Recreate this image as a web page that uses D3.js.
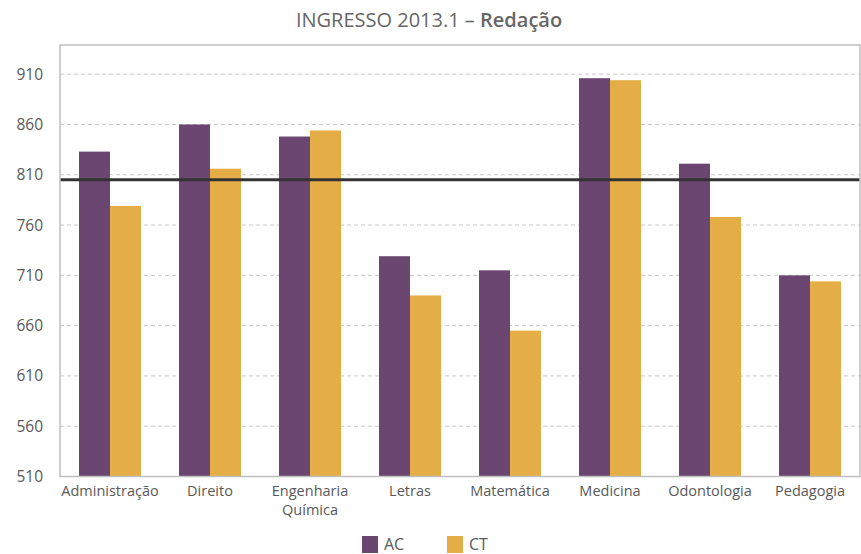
<!DOCTYPE html>
<html><head><meta charset="utf-8">
<script src="https://cdn.jsdelivr.net/npm/d3@7"></script>
<style>body{margin:0;background:#fff}svg{display:block}text{font-family:"Open Sans",Lato,sans-serif}</style>
</head><body><svg id="c" width="861" height="554"></svg>
<script>
const categories = ["Administração","Direito","Engenharia Química","Letras","Matemática","Medicina","Odontologia","Pedagogia"];
const seriesNames = ["AC","CT"];
const acValues = [833, 860, 848, 729, 715, 906, 821, 710];
const ctValues = [779, 816, 854, 690, 655, 904, 768, 704];
const yTicks = [510, 560, 610, 660, 710, 760, 810, 860, 910];
const referenceValue = 805;
const colors = ["#6B4670", "#E5AD45"];

const svg = d3.select("#c");
const m = {l:60, r:860, t:45, b:476.5};
const x = d3.scaleBand().domain(categories).range([m.l, m.r]).paddingInner(0.38).paddingOuter(0.19);
const xs = d3.scaleBand().domain(seriesNames).range([0, x.bandwidth()]);
const y = d3.scaleLinear().domain([510, 939]).range([m.b, m.t]);

// gridlines
svg.append("g").selectAll("line").data(yTicks.slice(1)).join("line")
  .attr("x1", m.l).attr("x2", m.r).attr("y1", d=>y(d)).attr("y2", d=>y(d))
  .attr("stroke", "#c8c8c8").attr("stroke-width", 1).attr("stroke-dasharray", "4,3");

// bars
const data = categories.map((c,i)=>({c, vals:[acValues[i], ctValues[i]]}));
const g = svg.append("g").selectAll("g").data(data).join("g").attr("transform", d=>`translate(${x(d.c)},0)`);
g.selectAll("rect").data(d=>d.vals.map((v,j)=>({k:seriesNames[j], v, j}))).join("rect")
  .attr("x", d=>xs(d.k)).attr("width", xs.bandwidth())
  .attr("y", d=>y(d.v)).attr("height", d=>y(510)-y(d.v)).attr("fill", d=>colors[d.j]);

// reference line
svg.append("line").attr("x1", m.l).attr("x2", m.r).attr("y1", y(referenceValue)).attr("y2", y(referenceValue))
  .attr("stroke", "#333").attr("stroke-width", 3);

// border
svg.append("rect").attr("x", m.l).attr("y", m.t).attr("width", m.r-m.l).attr("height", m.b-m.t)
  .attr("fill", "none").attr("stroke", "#bfbfbf").attr("stroke-width", 1.5);

const ff = "'Open Sans',Lato,sans-serif";
// y axis
const ya = svg.append("g").attr("transform", `translate(${m.l},0)`)
  .call(d3.axisLeft(y).tickValues(yTicks).tickSize(0).tickPadding(17));
ya.select(".domain").remove();
ya.selectAll("text").attr("fill", "#595959").style("font-size", "15.5px").style("font-family", ff);

// x axis
const xa = svg.append("g").attr("transform", `translate(0,${m.b})`)
  .call(d3.axisBottom(x).tickSize(0).tickPadding(9));
xa.select(".domain").remove();
xa.selectAll("text").attr("fill", "#595959").style("font-size", "14.5px").style("font-family", ff)
  .each(function(d){
    if (d === "Engenharia Química") {
      const t = d3.select(this); t.text(null);
      d.split(" ").forEach((w,i)=> t.append("tspan").attr("x", 0).attr("dy", i===0 ? "0.71em" : "1.3em").text(w));
    }
  });

// title
const title = svg.append("text").attr("x", 429).attr("y", 27).attr("text-anchor", "middle")
  .attr("fill", "#666").style("font-size", "20px").style("font-family", ff);
title.append("tspan").text("INGRESSO 2013.1 – ");
title.append("tspan").attr("font-weight", "600").text("Redação");

// legend
const leg = svg.append("g").selectAll("g").data(seriesNames).join("g")
  .attr("transform", (d,i)=>`translate(${362 + i*85},536)`);
leg.append("rect").attr("width", 16).attr("height", 17).attr("fill", (d,i)=>colors[i]);
leg.append("text").attr("x", 22).attr("y", 14).attr("fill", "#595959").style("font-size", "16px").style("font-family", ff).text(d=>d);
</script></body></html>
